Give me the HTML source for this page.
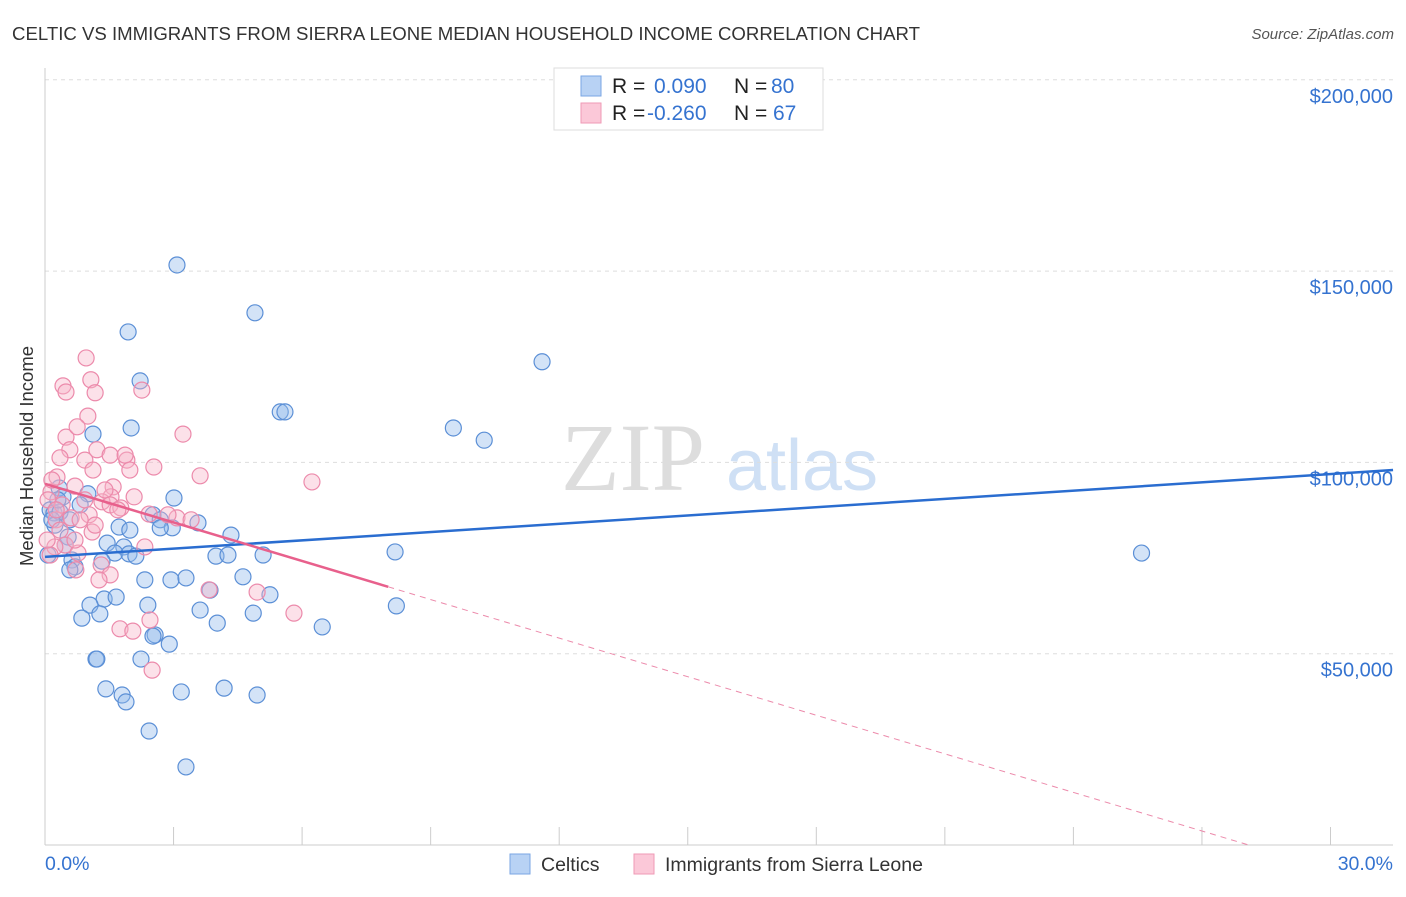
<!DOCTYPE html>
<html><head><meta charset="utf-8"><style>
body{margin:0;background:#fff;font-family:"Liberation Sans",sans-serif;}
svg text{font-family:"Liberation Sans",sans-serif;}
</style></head><body>
<svg id="c" width="1406" height="892" xmlns="http://www.w3.org/2000/svg">
<text x="12" y="40" font-size="18" fill="#333" textLength="908" lengthAdjust="spacingAndGlyphs">CELTIC VS IMMIGRANTS FROM SIERRA LEONE MEDIAN HOUSEHOLD INCOME CORRELATION CHART</text>
<text x="1394" y="39" font-size="15" fill="#555" text-anchor="end" font-style="italic">Source: ZipAtlas.com</text>
<text x="33" y="456" font-size="18.5" fill="#333" text-anchor="middle" transform="rotate(-90 33 456)">Median Household Income</text>
<g><text x="633" y="490" font-size="96" fill="#ddd" text-anchor="middle" font-family="Liberation Serif" style="font-family:'Liberation Serif',serif">ZIP</text><text x="802" y="490" font-size="72" fill="#cfe0f5" text-anchor="middle">atlas</text></g>
<g id="grid"></g><g id="axes"></g><g id="pts"></g><g id="trend"></g>
<g>
<rect x="554" y="68" width="269" height="62" fill="#fff" stroke="#ddd"/>
<rect x="581" y="76" width="20" height="20" fill="#b8d2f4" stroke="#7aa6e3"/>
<rect x="581" y="103" width="20" height="20" fill="#fbc8d8" stroke="#ef9ab6"/>
<text x="612" y="93" font-size="21" fill="#222">R = </text><text x="654" y="93" font-size="21" fill="#3573d0">0.090</text>
<text x="734" y="93" font-size="21" fill="#222">N = </text><text x="771" y="93" font-size="21" fill="#3573d0">80</text>
<text x="612" y="120" font-size="21" fill="#222">R = </text><text x="647" y="120" font-size="21" fill="#3573d0">-0.260</text>
<text x="734" y="120" font-size="21" fill="#222">N = </text><text x="773" y="120" font-size="21" fill="#3573d0">67</text>
</g>
<g>
<rect x="510" y="854" width="20" height="20" fill="#b8d2f4" stroke="#7aa6e3"/>
<text x="541" y="871" font-size="19.5" fill="#333">Celtics</text>
<rect x="634" y="854" width="20" height="20" fill="#fbc8d8" stroke="#ef9ab6"/>
<text x="665" y="871" font-size="19.5" fill="#333">Immigrants from Sierra Leone</text>
</g>
</svg>
<script>
const yTicks=[50000,100000,150000,200000];
const yTickLabels=["$50,000","$100,000","$150,000","$200,000"];
const xTickLabels=["0.0%","30.0%"];
const celticsX=[3.08,4.90,1.94,11.60,2.22,5.49,5.60,9.53,10.25,1.12,2.01,0.33,1.00,3.01,0.42,0.12,0.21,0.35,0.58,2.52,2.69,0.23,1.73,2.97,4.34,0.54,2.69,8.17,25.59,1.84,1.45,5.09,1.63,1.96,2.12,3.99,4.27,0.63,1.33,0.70,4.62,2.33,2.94,3.29,3.85,5.25,1.38,1.05,1.66,2.40,3.62,8.20,4.86,0.86,1.28,4.02,6.47,2.57,2.52,2.90,1.19,1.21,2.24,1.42,4.18,1.80,3.18,4.95,1.89,2.43,3.29,0.07,0.16,0.47,0.82,3.57,0.58,0.30,1.98];
const celticsY=[151.6,139.1,134.1,126.3,121.3,113.2,113.2,109.0,105.8,107.4,109.0,93.3,91.8,90.7,91.0,87.6,86.8,87.0,85.0,86.3,85.0,83.6,83.1,82.9,81.0,80.5,82.9,76.6,76.3,77.9,78.9,75.8,76.3,76.1,75.5,75.5,75.8,74.5,74.2,72.7,70.1,69.3,69.3,69.8,66.6,65.4,64.3,62.7,64.8,62.7,61.4,62.5,60.6,59.3,60.4,58.0,57.0,54.9,54.6,52.5,48.6,48.6,48.6,40.8,41.0,39.2,40.0,39.2,37.4,29.8,20.4,75.8,85.0,78.4,88.9,84.2,71.9,90.2,82.3];
const sierraX=[0.96,0.42,1.07,0.49,1.17,2.26,1.00,3.22,0.49,0.75,0.58,1.21,0.35,1.52,1.91,2.54,0.93,1.87,0.28,3.62,6.23,1.12,0.70,1.59,0.14,2.08,1.54,1.33,1.52,1.77,2.43,3.08,3.41,0.26,1.03,0.61,0.35,1.10,0.47,2.33,0.23,0.77,0.12,1.31,0.72,1.52,1.26,3.83,4.95,5.81,2.45,1.75,2.05,2.50,0.05,0.07,0.16,0.82,0.40,1.40,1.70,1.98,0.26,0.70,1.17,2.87,0.93];
const sierraY=[127.3,120.0,121.6,118.4,118.2,118.9,112.1,107.4,106.6,109.3,103.3,103.3,101.2,101.9,100.6,98.8,100.6,101.9,96.2,96.5,94.9,98.0,93.8,93.6,92.3,91.0,91.0,89.7,88.9,88.1,86.5,85.5,85.0,85.0,86.3,85.5,82.3,81.8,78.4,77.9,77.9,76.3,75.8,73.2,71.9,70.6,69.3,66.7,66.1,60.6,58.8,56.5,55.9,45.7,79.7,90.2,95.4,85.0,88.9,92.8,87.6,98.0,87.6,79.7,83.6,86.3,90.2];
const celticsTrend=[75.3,98.0];
const sierraTrend=[94.4,0];
const NS="http://www.w3.org/2000/svg";
const X=p=>45+p*42.85, Y=v=>845-v/50000*191.3, Yk=k=>Y(k*1000);
function mk(t,a,par){const e=document.createElementNS(NS,t);for(const k in a)e.setAttribute(k,a[k]);document.getElementById(par).appendChild(e);return e;}
yTicks.forEach((v,i)=>{
 const l=mk('line',{x1:45,x2:1393,y1:Y(v),y2:Y(v),stroke:'#ddd','stroke-dasharray':'4,4'},'grid');
 
 
 const t=mk('text',{x:1393,y:Y(v)+23,'font-size':20,fill:'#3573d0','text-anchor':'end'},'grid');t.textContent=yTickLabels[i];
 
 
});
mk('line',{x1:45,x2:45,y1:68,y2:845,stroke:'#ccc'},'axes');
mk('line',{x1:45,x2:1393,y1:845,y2:845,stroke:'#ccc'},'axes');
for(let i=0;i<=10;i++){const t=mk('line',{x1:X(i*3),x2:X(i*3),y1:827,y2:845,stroke:'#ccc'},'axes');
 
 }
[[0,'start',45],[30,'end',1393]].forEach((d,i)=>{const t=mk('text',{x:d[2],y:870,'font-size':19.5,fill:'#3573d0','text-anchor':d[1]},'axes');t.textContent=xTickLabels[i];
 
 });
function pts(xs,ys,fill,stroke,name){xs.forEach((x,i)=>{const c=mk('circle',{cx:X(x),cy:Yk(ys[i]),r:8,fill:fill,'fill-opacity':0.4,stroke:stroke,'stroke-width':1.2},'pts');
 
 });}
pts(celticsX,celticsY,'#90b8ec','#5b8fd6','celtics-point');
pts(sierraX,sierraY,'#f7b3c9','#ec8aab','sierra-leone-point');
const bt=mk('line',{x1:X(0),y1:Yk(celticsTrend[0]),x2:X(31.46),y2:Yk(celticsTrend[1]),stroke:'#2a6dd0','stroke-width':2.5},'trend');


const sx=28.09, f=8.01/sx, mid=sierraTrend[0]+(sierraTrend[1]-sierraTrend[0])*f;
const pt=mk('line',{x1:X(0),y1:Yk(sierraTrend[0]),x2:X(8.01),y2:Yk(mid),stroke:'#e8608c','stroke-width':2.5},'trend');


const pd=mk('line',{x1:X(8.01),y1:Yk(mid),x2:X(sx),y2:Yk(sierraTrend[1]),stroke:'#ec8aab','stroke-width':1,'stroke-dasharray':'6,5'},'trend');


</script>
</body></html>
